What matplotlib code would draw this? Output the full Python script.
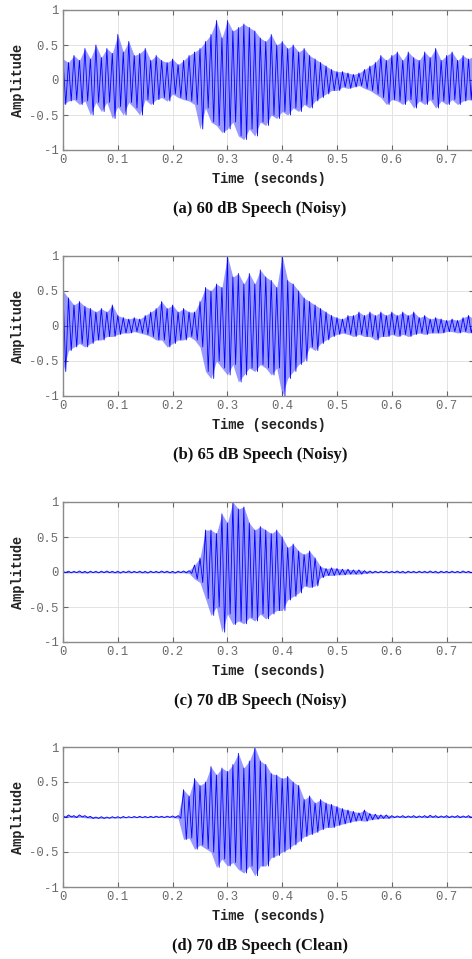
import matplotlib.pyplot as plt
import numpy as np

# peak amplitudes, one positive and one negative peak per 10 ms bin
step = 0.01

peaks_hi_a = [0.30, 0.25, 0.35, 0.28, 0.45, 0.30, 0.50, 0.32, 0.45, 0.38,
              0.65, 0.40, 0.55, 0.35, 0.38, 0.45, 0.28, 0.35, 0.28, 0.25,
              0.30, 0.22, 0.28, 0.35, 0.40, 0.45, 0.55, 0.65, 0.85, 0.60,
              0.85, 0.70, 0.75, 0.80, 0.75, 0.70, 0.60, 0.55, 0.65, 0.50,
              0.55, 0.45, 0.50, 0.40, 0.45, 0.35, 0.30, 0.25, 0.20, 0.15,
              0.12, 0.12, 0.10, 0.08, 0.10, 0.15, 0.20, 0.25, 0.35, 0.28,
              0.35, 0.40, 0.28, 0.40, 0.32, 0.28, 0.40, 0.32, 0.45, 0.28,
              0.35, 0.40, 0.28, 0.35, 0.30, 0.35]
peaks_lo_a = [-0.35, -0.30, -0.28, -0.35, -0.30, -0.50, -0.32, -0.45, -0.32, -0.55,
              -0.38, -0.50, -0.32, -0.40, -0.50, -0.28, -0.35, -0.28, -0.25, -0.30,
              -0.20, -0.25, -0.28, -0.30, -0.35, -0.70, -0.40, -0.60, -0.65, -0.75,
              -0.70, -0.60, -0.80, -0.85, -0.70, -0.80, -0.60, -0.65, -0.50, -0.55,
              -0.45, -0.50, -0.40, -0.45, -0.35, -0.40, -0.30, -0.25, -0.20, -0.15,
              -0.15, -0.10, -0.12, -0.10, -0.08, -0.12, -0.15, -0.20, -0.25, -0.35,
              -0.28, -0.30, -0.35, -0.28, -0.40, -0.30, -0.35, -0.28, -0.40, -0.30,
              -0.35, -0.28, -0.35, -0.30, -0.28, -0.30]

peaks_hi_b = [0.50, 0.40, 0.30, 0.35, 0.28, 0.25, 0.20, 0.25, 0.20, 0.30,
              0.15, 0.12, 0.10, 0.12, 0.10, 0.15, 0.20, 0.25, 0.35, 0.25,
              0.30, 0.20, 0.25, 0.20, 0.20, 0.35, 0.55, 0.50, 0.60, 0.55,
              1.00, 0.70, 0.75, 0.60, 0.75, 0.60, 0.80, 0.70, 0.65, 0.55,
              1.00, 0.65, 0.60, 0.50, 0.40, 0.35, 0.30, 0.25, 0.20, 0.15,
              0.12, 0.10, 0.15, 0.15, 0.20, 0.15, 0.20, 0.15, 0.20, 0.15,
              0.20, 0.15, 0.20, 0.15, 0.20, 0.12, 0.15, 0.10, 0.12, 0.10,
              0.08, 0.10, 0.08, 0.12, 0.15, 0.10]
peaks_lo_b = [-0.65, -0.35, -0.30, -0.25, -0.30, -0.25, -0.20, -0.20, -0.15, -0.15,
              -0.12, -0.10, -0.10, -0.08, -0.10, -0.12, -0.15, -0.20, -0.20, -0.30,
              -0.25, -0.20, -0.20, -0.15, -0.20, -0.30, -0.65, -0.75, -0.50, -0.60,
              -0.70, -0.55, -0.80, -0.70, -0.60, -0.65, -0.55, -0.60, -0.70, -0.60,
              -1.00, -0.75, -0.65, -0.55, -0.50, -0.30, -0.35, -0.25, -0.20, -0.15,
              -0.12, -0.10, -0.12, -0.15, -0.12, -0.15, -0.15, -0.20, -0.15, -0.15,
              -0.12, -0.15, -0.12, -0.15, -0.12, -0.10, -0.12, -0.10, -0.10, -0.10,
              -0.08, -0.08, -0.10, -0.08, -0.10, -0.08]

peaks_hi_c = [0.010, 0.012, 0.010, 0.015, 0.010, 0.012, 0.010, 0.012, 0.015, 0.010,
              0.012, 0.010, 0.015, 0.010, 0.012, 0.010, 0.012, 0.010, 0.015, 0.012,
              0.010, 0.012, 0.015, 0.020, 0.10, 0.20, 0.60, 0.60, 0.55, 0.83,
              0.70, 1.00, 0.90, 0.93, 0.70, 0.60, 0.65, 0.60, 0.55, 0.60,
              0.50, 0.35, 0.40, 0.30, 0.25, 0.30, 0.20, 0.08, 0.05, 0.06,
              0.05, 0.04, 0.04, 0.03, 0.03, 0.02, 0.015, 0.012, 0.010, 0.012,
              0.010, 0.015, 0.010, 0.012, 0.010, 0.012, 0.010, 0.015, 0.010, 0.012,
              0.010, 0.012, 0.010, 0.015, 0.010, 0.012]
peaks_lo_c = [-0.010, -0.012, -0.010, -0.012, -0.015, -0.010, -0.012, -0.010, -0.010, -0.012,
              -0.015, -0.010, -0.012, -0.010, -0.012, -0.015, -0.010, -0.012, -0.010, -0.012,
              -0.015, -0.010, -0.012, -0.020, -0.10, -0.15, -0.38, -0.62, -0.50, -0.86,
              -0.60, -0.75, -0.70, -0.74, -0.65, -0.70, -0.60, -0.67, -0.60, -0.55,
              -0.55, -0.40, -0.35, -0.30, -0.20, -0.22, -0.20, -0.08, -0.05, -0.05,
              -0.04, -0.04, -0.03, -0.03, -0.03, -0.02, -0.015, -0.012, -0.010, -0.012,
              -0.010, -0.012, -0.015, -0.010, -0.012, -0.010, -0.012, -0.010, -0.015, -0.010,
              -0.012, -0.010, -0.012, -0.010, -0.012, -0.010]

peaks_hi_d = [0.020, 0.030, 0.020, 0.030, 0.020, 0.010, 0.000, 0.005, 0.000, 0.005,
              0.005, 0.008, 0.005, 0.008, 0.010, 0.008, 0.010, 0.012, 0.010, 0.012,
              0.015, 0.020, 0.39, 0.30, 0.55, 0.45, 0.50, 0.72, 0.60, 0.70,
              0.65, 0.75, 0.91, 0.70, 0.80, 1.00, 0.80, 0.75, 0.62, 0.60,
              0.55, 0.58, 0.50, 0.45, 0.25, 0.30, 0.20, 0.25, 0.20, 0.18,
              0.15, 0.12, 0.10, 0.08, 0.06, 0.10, 0.05, 0.04, 0.03, 0.03,
              0.020, 0.015, 0.020, 0.015, 0.020, 0.015, 0.020, 0.025, 0.020, 0.015,
              0.020, 0.015, 0.020, 0.015, 0.020, 0.015]
peaks_lo_d = [-0.010, 0.000, -0.010, 0.000, -0.010, -0.020, -0.020, -0.020, -0.018, -0.015,
              -0.015, -0.012, -0.010, -0.010, -0.008, -0.010, -0.008, -0.005, -0.008, -0.005,
              -0.008, -0.020, -0.32, -0.30, -0.46, -0.40, -0.45, -0.50, -0.72, -0.60,
              -0.70, -0.65, -0.75, -0.80, -0.70, -0.84, -0.70, -0.70, -0.58, -0.55,
              -0.50, -0.46, -0.40, -0.35, -0.28, -0.25, -0.22, -0.18, -0.15, -0.15,
              -0.12, -0.10, -0.08, -0.06, -0.05, -0.06, -0.04, -0.03, -0.02, -0.02,
              -0.010, -0.005, -0.010, -0.005, -0.010, -0.005, -0.010, -0.005, -0.010, -0.005,
              -0.010, -0.005, -0.010, -0.005, -0.010, -0.005]

captions = ["(a) 60 dB Speech (Noisy)", "(b) 65 dB Speech (Noisy)",
            "(c) 70 dB Speech (Noisy)", "(d) 70 dB Speech (Clean)"]
panels = [(peaks_hi_a, peaks_lo_a), (peaks_hi_b, peaks_lo_b),
          (peaks_hi_c, peaks_lo_c), (peaks_hi_d, peaks_lo_d)]

W, H = 472, 959
fig = plt.figure(figsize=(W / 100, H / 100), dpi=100)

tops = [10, 256, 502, 747]
ax_h = 140
left = 63
ax_w = 411

for k, (hi, lo) in enumerate(panels):
    top = tops[k]
    ax = fig.add_axes([left / W, 1 - (top + ax_h) / H, ax_w / W, ax_h / H])
    n = len(hi)
    tb = np.arange(n) * step
    t = np.empty(2 * n)
    t[0::2] = tb
    t[1::2] = tb + step / 2
    y = np.empty(2 * n)
    y[0::2] = hi
    y[1::2] = lo
    # envelope band underneath, waveform zigzag on top
    ax.fill_between(tb, lo, hi, color="#0000ff", alpha=0.4, lw=0)
    ax.plot(t, y, color="#0000ff", lw=0.6)

    ax.set_xlim(0, 0.75)
    ax.set_ylim(-1, 1)
    ax.set_xticks([0, 0.1, 0.2, 0.3, 0.4, 0.5, 0.6, 0.7])
    ax.set_xticklabels(["0", "0.1", "0.2", "0.3", "0.4", "0.5", "0.6", "0.7"])
    ax.set_yticks([-1, -0.5, 0, 0.5, 1])
    ax.set_yticklabels(["-1", "-0.5", "0", "0.5", "1"])
    ax.grid(True, color="#e3e3e3", lw=0.7)
    ax.set_axisbelow(True)
    for s in ax.spines.values():
        s.set_color("#8a8a8a")
        s.set_linewidth(1.0)
    ax.tick_params(direction="in", length=3.5, width=0.8, color="#666666",
                   top=True, right=True, labelsize=8.8, labelcolor="#6a6a6a", pad=3)
    for lab in ax.get_xticklabels() + ax.get_yticklabels():
        lab.set_family("Liberation Mono")

    ax.set_xlabel("Time (seconds)", family="Liberation Mono", fontweight="bold",
                  fontsize=9.8, color="#222222", labelpad=4)
    ax.set_ylabel("Amplitude", family="Liberation Mono", fontweight="bold",
                  fontsize=9.8, color="#222222", labelpad=3)

    fig.text(260 / W, 1 - (top + ax_h + 59) / H, captions[k], ha="center", va="center",
             family="Liberation Serif", fontweight="bold", fontsize=12, color="#111111")

fig.savefig("out.png", dpi=100)
